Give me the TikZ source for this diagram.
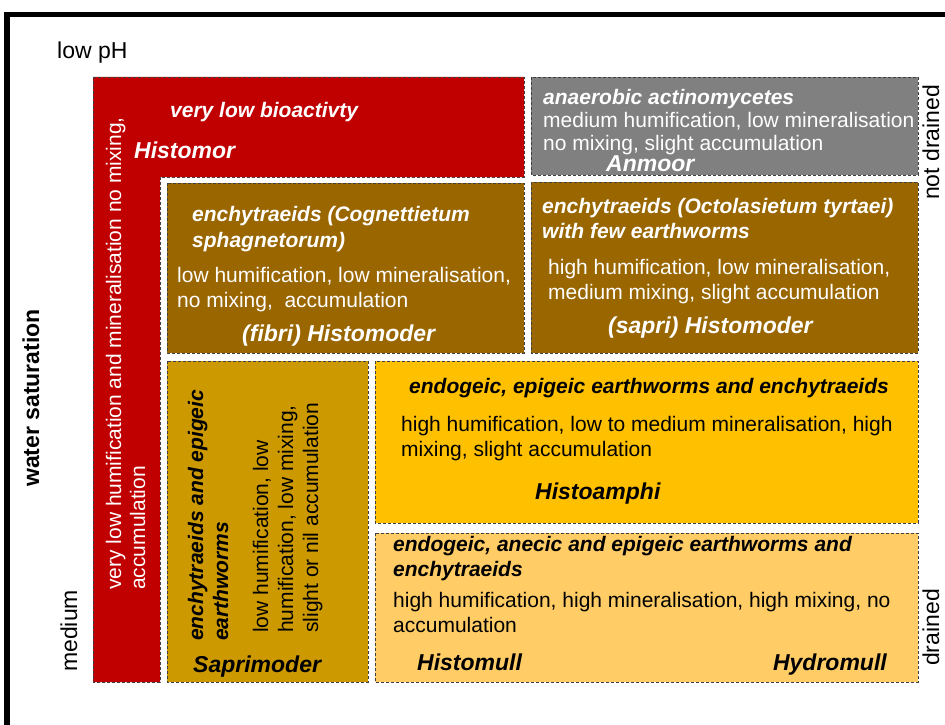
\documentclass[tikz,border=0pt]{standalone}
\usepackage{fontspec}
\setmainfont{Liberation Sans}
\definecolor{redc}{HTML}{C00000}
\definecolor{grayc}{HTML}{808080}
\definecolor{brownc}{HTML}{996600}
\definecolor{saprc}{HTML}{CC9900}
\definecolor{amphc}{HTML}{FFC000}
\definecolor{mullc}{HTML}{FFCC66}
\definecolor{dashc}{HTML}{404040}
\tikzset{
  hbox/.style={draw=dashc, dash pattern=on 3pt off 2pt, line width=0.8pt},
  txbody/.style={inner sep=0pt, anchor=base west, font=\fontsize{21}{25}\selectfont},
  txsub/.style={txbody, font=\fontsize{21}{25}\selectfont\bfseries\itshape},
  txname/.style={txbody, font=\fontsize{23}{27}\selectfont\bfseries\itshape},
  txaxis/.style={inner sep=0pt, anchor=base west, font=\fontsize{23}{27}\selectfont},
  txaxisb/.style={txaxis, font=\fontsize{23}{27}\selectfont\bfseries},
}
\begin{document}
\begin{tikzpicture}[x=1pt,y=-1pt]
\useasboundingbox (0,0) rectangle (945,725);
% frame
\draw[line width=5.5pt, line join=miter] (7,725) -- (7,14.5) -- (945,14.5);
% boxes
\path[hbox, fill=redc] (93,77) -- (524,77) -- (524,177) -- (160,177) -- (160,682) -- (93,682) -- cycle;
\path[hbox, fill=grayc] (531,77) rectangle (918,175);
\path[hbox, fill=brownc] (167,183) rectangle (524,353);
\path[hbox, fill=brownc] (531,182) rectangle (918,353);
\path[hbox, fill=saprc] (167,361) rectangle (368,682);
\path[hbox, fill=amphc] (375,361) rectangle (918,523);
\path[hbox, fill=mullc] (375,533) rectangle (918,682);
% axis labels
\node[txaxis] (lowph) at (57,59) {low pH};
\node[txaxisb, rotate=90] (water) at (39,487) {water saturation};
\node[txaxis, rotate=90] (medium) at (77,672) {medium};
\node[txaxis, rotate=90] (notdrained) at (939,200) {not drained};
\node[txaxis, rotate=90] (drained) at (939,666) {drained};
% Histomor
\node[txsub, white] (histomorsub) at (170,117) {very low bioactivty};
\node[txname, white] (histomor) at (134,158) {Histomor};
\node[txbody, white, rotate=90] (redla) at (121,590) {very low humification and mineralisation no mixing,};
\node[txbody, white, rotate=90] (redlb) at (145,590) {accumulation};
% Anmoor
\node[txsub, white] (anmoorsub) at (543,104) {anaerobic actinomycetes};
\node[txbody, white] (anmoora) at (543,127) {medium humification, low mineralisation};
\node[txbody, white] (anmoorb) at (543,150) {no mixing, slight accumulation};
\node[txname, white] (anmoor) at (606,171) {Anmoor};
% fibri Histomoder
\node[txsub, white] (fibrisuba) at (192,221) {enchytraeids (Cognettietum};
\node[txsub, white] (fibrisubb) at (192,247) {sphagnetorum)};
\node[txbody, white] (fibria) at (177,282) {low humification, low mineralisation,};
\node[txbody, white] (fibrib) at (177,307) {no mixing,\ \ accumulation};
\node[txname, white] (fibri) at (242,341) {(fibri) Histomoder};
% sapri Histomoder
\node[txsub, white] (saprisuba) at (542,213) {enchytraeids (Octolasietum tyrtaei)};
\node[txsub, white] (saprisubb) at (542,238) {with few earthworms};
\node[txbody, white] (sapria) at (548,274) {high humification, low mineralisation,};
\node[txbody, white] (saprib) at (548,299) {medium mixing, slight accumulation};
\node[txname, white] (sapri) at (608,333) {(sapri) Histomoder};
% Saprimoder
\node[txsub, rotate=90] (saprmsuba) at (203,641) {enchytraeids and epigeic};
\node[txsub, rotate=90] (saprmsubb) at (228,641) {earthworms};
\node[txbody, rotate=90] (saprma) at (268,633) {low humification, low};
\node[txbody, rotate=90] (saprmb) at (293,633) {humification, low mixing,};
\node[txbody, rotate=90] (saprmc) at (318,633) {slight or nil accumulation};
\node[txname] (saprm) at (193,672) {Saprimoder};
% Histoamphi
\node[txsub] (amphisub) at (409,393) {endogeic, epigeic earthworms and enchytraeids};
\node[txbody] (amphia) at (401,431) {high humification, low to medium mineralisation, high};
\node[txbody] (amphib) at (401,456) {mixing, slight accumulation};
\node[txname] (amphi) at (535,499) {Histoamphi};
% Histomull / Hydromull
\node[txsub] (mullsuba) at (393,551) {endogeic, anecic and epigeic earthworms and};
\node[txsub] (mullsubb) at (393,576) {enchytraeids};
\node[txbody] (mulla) at (393,607) {high humification, high mineralisation, high mixing, no};
\node[txbody] (mullb) at (393,632) {accumulation};
\node[txname] (histomull) at (417,670) {Histomull};
\node[txname, anchor=base east] (hydromull) at (887,670) {Hydromull};
\end{tikzpicture}
\end{document}
